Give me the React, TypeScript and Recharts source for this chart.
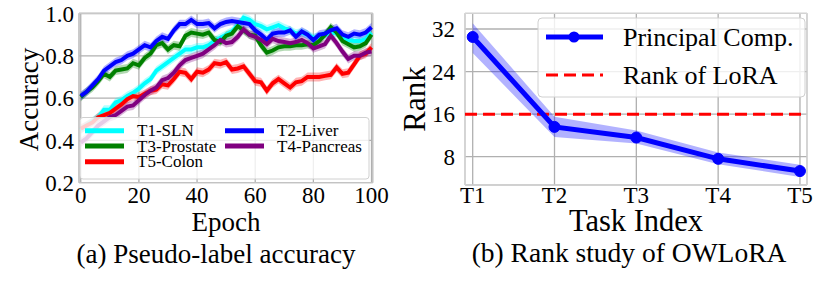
import React from 'react';
import {
  ComposedChart,
  Line,
  Area,
  XAxis,
  YAxis,
  CartesianGrid,
  ReferenceLine,
  ReferenceArea,
} from 'recharts';

// ---------- (a) Pseudo-label accuracy ----------
const epochs = [
  0, 2, 4, 6, 8, 10, 12, 14, 16, 18, 20, 22, 24, 26, 28, 30, 32, 34, 36, 38, 40,
  42, 44, 46, 48, 50, 52, 54, 56, 58, 60, 62, 64, 66, 68, 70, 72, 74, 76, 78, 80,
  82, 84, 86, 88, 90, 92, 94, 96, 98, 100,
];
const t1SLN = [
  0.45, 0.47, 0.49, 0.51, 0.545, 0.545, 0.58, 0.59, 0.61, 0.625, 0.645, 0.67, 0.69,
  0.73, 0.75, 0.77, 0.79, 0.81, 0.83, 0.83, 0.84, 0.84, 0.85, 0.87, 0.885, 0.9,
  0.915, 0.945, 0.98, 0.97, 0.95, 0.94, 0.925, 0.935, 0.945, 0.93, 0.92, 0.905,
  0.91, 0.9, 0.885, 0.89, 0.9, 0.905, 0.91, 0.89, 0.875, 0.87, 0.87, 0.88, 0.91,
];
const t2Liver = [
  0.61, 0.63, 0.66, 0.69, 0.73, 0.75, 0.77, 0.78, 0.8, 0.81, 0.83, 0.85, 0.84,
  0.87, 0.89, 0.88, 0.92, 0.95, 0.95, 0.97, 0.95, 0.95, 0.955, 0.93, 0.95, 0.96,
  0.965, 0.96, 0.955, 0.95, 0.92, 0.9, 0.875, 0.905, 0.91, 0.91, 0.92, 0.89,
  0.915, 0.9, 0.875, 0.9, 0.905, 0.92, 0.93, 0.9, 0.89, 0.905, 0.9, 0.91, 0.935,
];
const t3Prostate = [
  0.605, 0.63, 0.65, 0.68, 0.715, 0.7, 0.73, 0.735, 0.74, 0.765, 0.755, 0.79,
  0.81, 0.85, 0.86, 0.83, 0.85, 0.845, 0.895, 0.91, 0.905, 0.9, 0.91, 0.875,
  0.865, 0.895, 0.905, 0.94, 0.92, 0.9, 0.895, 0.85, 0.815, 0.825, 0.84, 0.845,
  0.845, 0.85, 0.85, 0.855, 0.85, 0.87, 0.9, 0.935, 0.91, 0.87, 0.855, 0.84,
  0.845, 0.86, 0.9,
];
const t4Pancreas = [
  0.39, 0.41, 0.44, 0.47, 0.49, 0.51, 0.52, 0.54, 0.56, 0.565, 0.59, 0.615, 0.635,
  0.65, 0.685, 0.695, 0.72, 0.755, 0.78, 0.79, 0.8, 0.81, 0.83, 0.85, 0.875, 0.86,
  0.865, 0.89, 0.925, 0.9, 0.89, 0.875, 0.855, 0.88, 0.87, 0.865, 0.86, 0.865,
  0.875, 0.86, 0.835, 0.845, 0.855, 0.895, 0.86, 0.82, 0.785, 0.8, 0.8, 0.815,
  0.82,
];
const t5Colon = [
  0.455, 0.47, 0.485, 0.51, 0.52, 0.53, 0.55, 0.57, 0.595, 0.61, 0.605, 0.62,
  0.635, 0.64, 0.665, 0.66, 0.69, 0.725, 0.72, 0.69, 0.725, 0.72, 0.735, 0.765,
  0.76, 0.77, 0.735, 0.74, 0.75, 0.715, 0.68, 0.675, 0.635, 0.67, 0.69, 0.67,
  0.65, 0.675, 0.68, 0.7, 0.7, 0.7, 0.705, 0.71, 0.745, 0.715, 0.72, 0.76, 0.8,
  0.81, 0.84,
];
const accBandHalfWidth = 0.021;
const epochTicks = [0, 20, 40, 60, 80, 100];
const accTicks = [0.2, 0.4, 0.6, 0.8, 1.0];

const accSeries = [
  { key: 't1', name: 'T1-SLN', color: '#00ffff', values: t1SLN },
  { key: 't3', name: 'T3-Prostate', color: '#008000', values: t3Prostate },
  { key: 't5', name: 'T5-Colon', color: '#ff0000', values: t5Colon },
  { key: 't2', name: 'T2-Liver', color: '#0000ff', values: t2Liver },
  { key: 't4', name: 'T4-Pancreas', color: '#800080', values: t4Pancreas },
];

const accData = epochs.map((e, i) => {
  const row: any = { epoch: e };
  accSeries.forEach((s) => {
    row[s.key] = s.values[i];
    row[s.key + 'Band'] = [s.values[i] - accBandHalfWidth, s.values[i] + accBandHalfWidth];
  });
  return row;
});

// ---------- (b) Rank study ----------
const tasks = ['T1', 'T2', 'T3', 'T4', 'T5'];
const principalComp = [30.5, 13.6, 11.6, 7.6, 5.3];
const principalLow = [27.5, 11.7, 10.5, 6.6, 4.2];
const principalHigh = [33.1, 15.5, 12.9, 8.8, 6.5];
const loraRank = 16;
const rankTicks = [8, 16, 24, 32];

const rankData = tasks.map((t, i) => ({
  idx: i,
  task: t,
  pc: principalComp[i],
  band: [principalLow[i], principalHigh[i]],
}));

const FONT = '"Liberation Serif", "Times New Roman", serif';
const GRID = '#b0b0b0';

export default function App() {
  const tickStyle = { fontFamily: FONT, fontSize: 23, fill: '#000' };
  return (
    <div
      style={{
        position: 'absolute',
        left: 0,
        top: 0,
        width: 830,
        height: 281,
        background: '#fff',
        overflow: 'hidden',
      }}
    >
      {/* Left chart */}
      <div style={{ position: 'absolute', left: 0, top: 0 }}>
        <ComposedChart
          width={400}
          height={230}
          data={accData}
          margin={{ top: 13.3, right: 27.3, bottom: 17.3, left: 0 }}
        >
          <CartesianGrid stroke={GRID} strokeWidth={1.3} />
          <ReferenceArea
            x1={-0.6}
            x2={100.4}
            y1={0.2}
            y2={1.0}
            fill="none"
            stroke="#c8c8c8"
            strokeWidth={1}
            ifOverflow="visible"
          />
          <XAxis
            dataKey="epoch"
            type="number"
            domain={[-0.6, 100.4]}
            ticks={epochTicks}
            axisLine={false}
            tickLine={false}
            tickSize={2}
            tickMargin={2}
            height={30}
            tick={tickStyle}
            interval={0}
          />
          <YAxis
            type="number"
            domain={[0.2, 1.0]}
            ticks={accTicks}
            axisLine={false}
            tickLine={false}
            tickSize={3}
            tickMargin={2}
            width={79}
            tick={tickStyle}
            tickFormatter={(v: number) => v.toFixed(1)}
            interval={0}
          />
          {accSeries.map((s) => (
            <Area
              key={s.key + 'Band'}
              dataKey={s.key + 'Band'}
              stroke="none"
              fill={s.color}
              fillOpacity={0.3}
              isAnimationActive={false}
              activeDot={false}
            />
          ))}
          {accSeries.map((s) => (
            <Line
              key={s.key}
              dataKey={s.key}
              stroke={s.color}
              strokeWidth={4}
              dot={false}
              activeDot={false}
              isAnimationActive={false}
            />
          ))}
        </ComposedChart>
      </div>

      {/* Right chart */}
      <div style={{ position: 'absolute', left: 400, top: 0 }}>
        <ComposedChart
          width={420}
          height={230}
          data={rankData}
          margin={{ top: 13.3, right: 13, bottom: 15, left: 0 }}
        >
          <CartesianGrid stroke={GRID} strokeWidth={1.3} />
          <ReferenceArea
            x1={-0.094}
            x2={4.086}
            y1={2.68}
            y2={34.95}
            fill="none"
            stroke="#dddddd"
            strokeWidth={1}
            ifOverflow="visible"
          />
          <XAxis
            dataKey="idx"
            type="number"
            domain={[-0.094, 4.086]}
            ticks={[0, 1, 2, 3, 4]}
            tickFormatter={(i: number) => tasks[i]}
            axisLine={false}
            tickLine={false}
            tickSize={1}
            tickMargin={1}
            height={30}
            tick={tickStyle}
            interval={0}
          />
          <YAxis
            type="number"
            domain={[2.68, 34.95]}
            ticks={rankTicks}
            axisLine={false}
            tickLine={false}
            tickSize={8}
            tickMargin={2}
            width={65}
            tick={tickStyle}
            interval={0}
          />
          <Area
            dataKey="band"
            stroke="none"
            fill="#0000ff"
            fillOpacity={0.3}
            isAnimationActive={false}
            activeDot={false}
          />
          <ReferenceLine
            y={loraRank}
            stroke="#ff0000"
            strokeWidth={3}
            strokeDasharray="12 6"
          />
          <Line
            dataKey="pc"
            stroke="#0000ff"
            strokeWidth={5}
            dot={{ r: 5.5, fill: '#0000ff', stroke: '#0000ff', strokeWidth: 1 }}
            activeDot={false}
            isAnimationActive={false}
          />
        </ComposedChart>
      </div>

      {/* Titles, captions, legends */}
      <svg
        width={830}
        height={281}
        style={{ position: 'absolute', left: 0, top: 0, pointerEvents: 'none' }}
        fontFamily={FONT}
      >
        {/* left axis titles */}
        <text x={226} y={231} fontSize={27} textAnchor="middle" fill="#000">
          Epoch
        </text>
        <text
          transform="translate(38,99.5) rotate(-90)"
          fontSize={27}
          textAnchor="middle"
          fill="#000"
        >
          Accuracy
        </text>
        <text x={216} y={263} fontSize={27} textAnchor="middle" fill="#000">
          (a) Pseudo-label accuracy
        </text>

        {/* left legend */}
        <rect
          x={80}
          y={117.5}
          width={289}
          height={61.5}
          rx={3}
          fill="#ffffff"
          fillOpacity={0.8}
          stroke="#d0d0d0"
          strokeWidth={1}
        />
        {[
          { s: accSeries[0], x: 85, y: 130.7 },
          { s: accSeries[1], x: 85, y: 146 },
          { s: accSeries[2], x: 85, y: 161.7 },
          { s: accSeries[3], x: 225, y: 130.7 },
          { s: accSeries[4], x: 225, y: 146 },
        ].map(({ s, x, y }) => (
          <g key={s.key}>
            <line x1={x} x2={x + 39} y1={y} y2={y} stroke={s.color} strokeWidth={5} />
            <text x={x + 52} y={y + 5.5} fontSize={17} fill="#000">
              {s.name}
            </text>
          </g>
        ))}

        {/* right axis titles */}
        <text x={636} y={231} fontSize={30.5} textAnchor="middle" fill="#000">
          Task Index
        </text>
        <text
          transform="translate(425,99) rotate(-90)"
          fontSize={31}
          textAnchor="middle"
          fill="#000"
        >
          Rank
        </text>
        <text x={629} y={262} fontSize={27.5} textAnchor="middle" fill="#000">
          (b) Rank study of OWLoRA
        </text>

        {/* right legend */}
        <rect
          x={538}
          y={18}
          width={267}
          height={79}
          rx={4}
          fill="#ffffff"
          fillOpacity={0.8}
          stroke="#d0d0d0"
          strokeWidth={1}
        />
        <line x1={546} x2={603} y1={37} y2={37} stroke="#0000ff" strokeWidth={5} />
        <circle cx={574} cy={37} r={5.5} fill="#0000ff" />
        <text x={623} y={46} fontSize={26} fill="#000">
          Principal Comp.
        </text>
        <line
          x1={546}
          x2={603}
          y1={75}
          y2={75}
          stroke="#ff0000"
          strokeWidth={3}
          strokeDasharray="12 6"
        />
        <text x={623} y={84} fontSize={26} fill="#000">
          Rank of LoRA
        </text>
      </svg>
    </div>
  );
}
